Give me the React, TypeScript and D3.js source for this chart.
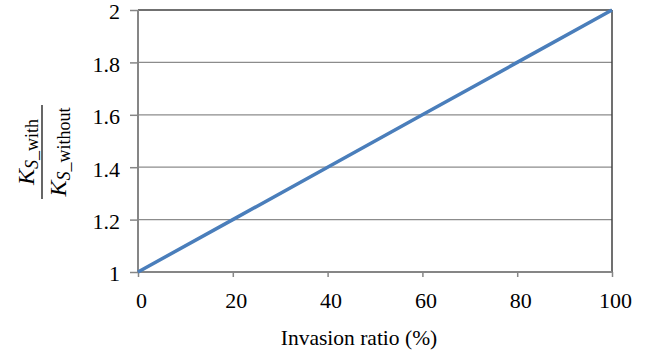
import React, { useEffect, useRef } from 'react';
import * as d3 from 'd3';

const ratioX = [0, 20, 40, 60, 80, 100];
const ksRatio = [1, 1.2, 1.4, 1.6, 1.8, 2];
const yTicks = [1, 1.2, 1.4, 1.6, 1.8, 2];
const xTicks = [0, 20, 40, 60, 80, 100];

const App = () => {
  const svgRef = useRef<SVGSVGElement>(null);

  useEffect(() => {
    const svg = d3.select(svgRef.current);
    svg.selectAll('*').remove();
    const margin = { top: 10, right: 35, bottom: 80, left: 138 };
    const width = 647, height = 352;
    const w = width - margin.left - margin.right;
    const h = height - margin.top - margin.bottom;
    const font = '"Liberation Serif", "Times New Roman", serif';

    const x = d3.scaleLinear().domain([0, 100]).range([0, w]);
    const y = d3.scaleLinear().domain([1, 2]).range([h, 0]);

    const g = svg.append('g').attr('transform', `translate(${margin.left},${margin.top})`);

    // gridlines
    g.selectAll('.grid').data(yTicks.slice(1, -1)).enter().append('line')
      .attr('x1', 0).attr('x2', w)
      .attr('y1', d => y(d)).attr('y2', d => y(d))
      .attr('stroke', '#8c8c8c').attr('stroke-width', 1.3);

    // frame top/right
    g.append('line').attr('x1', 0).attr('x2', w).attr('y1', 0).attr('y2', 0)
      .attr('stroke', '#404040').attr('stroke-width', 1.5);
    g.append('line').attr('x1', w).attr('x2', w).attr('y1', 0).attr('y2', h)
      .attr('stroke', '#404040').attr('stroke-width', 1.5);

    const yAxis = g.append('g').call(d3.axisLeft(y).tickValues(yTicks).tickSize(8).tickPadding(10).tickFormat(d3.format('')));
    const xAxis = g.append('g').attr('transform', `translate(0,${h})`)
      .call(d3.axisBottom(x).tickValues(xTicks).tickSize(5).tickPadding(15));
    [yAxis, xAxis].forEach(a => {
      a.attr('font-size', null).attr('font-family', null);
      a.select('.domain').attr('stroke', '#868686').attr('stroke-width', 2);
      a.selectAll('.tick line').attr('stroke', '#868686').attr('stroke-width', 1.5);
      a.selectAll('.tick text').attr('fill', '#000').style('font-family', font).style('font-size', '22px');
    });
    yAxis.selectAll('.tick text').attr('dy', '0.4em');
    xAxis.selectAll('.tick text').attr('dx', 3);
    xAxis.select('.domain').attr('d', `M0,0H${w}`);
    yAxis.select('.domain').attr('d', `M0,0V${h}`);

    const line = d3.line<number>().x((_, i) => x(ratioX[i])).y(d => y(d));
    g.append('path').datum(ksRatio).attr('d', line)
      .attr('fill', 'none').attr('stroke', '#4a7ebb').attr('stroke-width', 3.5);

    // x label
    svg.append('text').attr('x', 359).attr('y', 345)
      .attr('text-anchor', 'middle').style('font-family', font).style('font-size', '21.5px')
      .text('Invasion ratio (%)');

    // y label fraction
    const yl = svg.append('g').attr('transform', 'translate(42,152) rotate(-90)').style('font-family', font);
    const num = yl.append('text').attr('x', 0).attr('y', -8).attr('text-anchor', 'middle').style('font-size', '24px');
    num.append('tspan').attr('font-style', 'italic').text('K');
    num.append('tspan').attr('font-style', 'italic').attr('font-size', '18px').attr('dy', 4).text('S');
    num.append('tspan').attr('font-size', '18px').text('_with');
    const den = yl.append('text').attr('x', 0).attr('y', 24).attr('text-anchor', 'middle').style('font-size', '24px');
    den.append('tspan').attr('font-style', 'italic').text('K');
    den.append('tspan').attr('font-style', 'italic').attr('font-size', '18px').attr('dy', 4).text('S');
    den.append('tspan').attr('font-size', '18px').text('_without');
    yl.append('line').attr('x1', -47).attr('x2', 47).attr('y1', 0).attr('y2', 0)
      .attr('stroke', '#000').attr('stroke-width', 1.2);
  }, []);

  return <svg ref={svgRef} width={647} height={352} style={{ position: 'absolute', left: 0, top: 0 }} />;
};

export default App;
